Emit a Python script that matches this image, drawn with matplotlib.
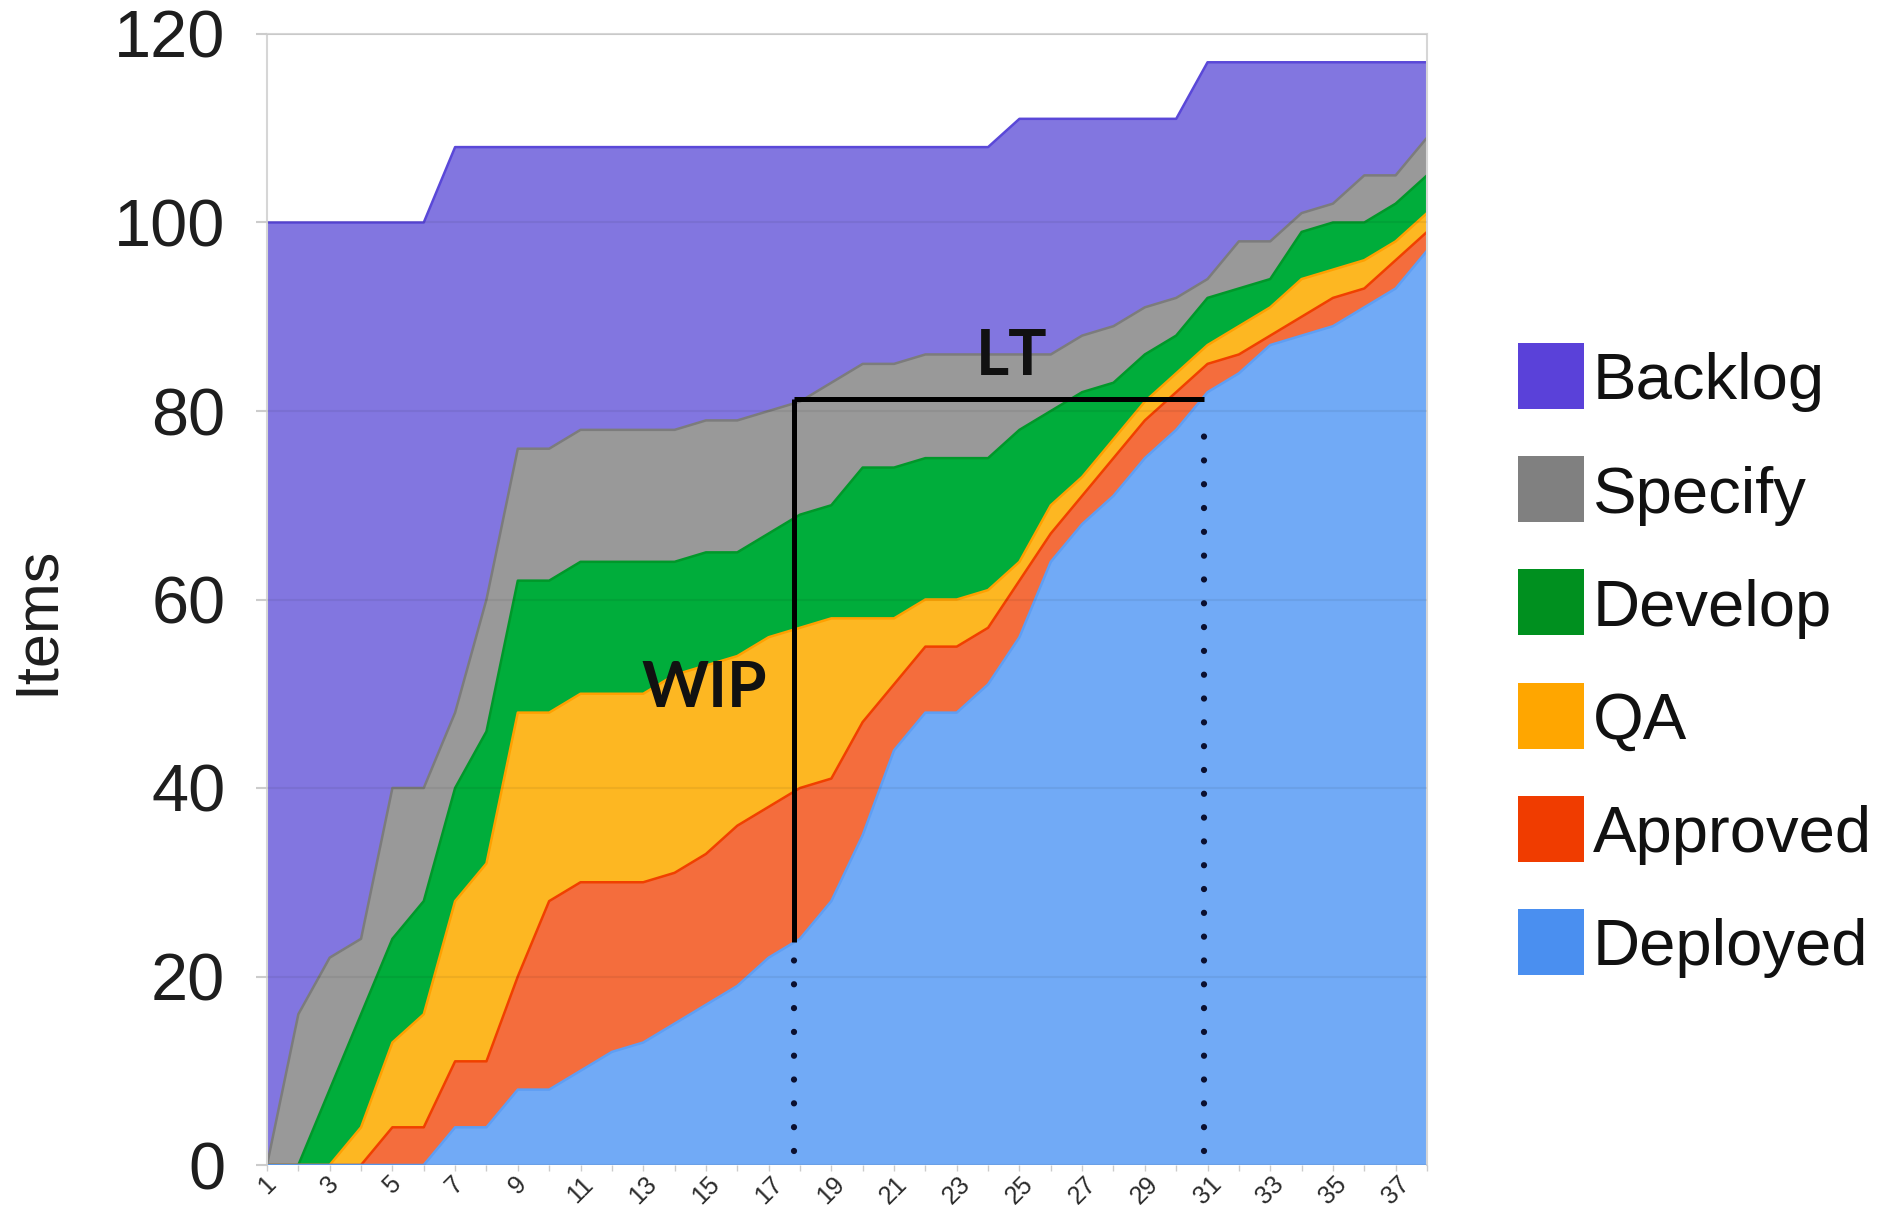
import matplotlib
matplotlib.use("Agg")
import matplotlib.pyplot as plt
from matplotlib.patches import Rectangle
import numpy as np

plt.rcParams["font.family"] = ["Liberation Sans", "DejaVu Sans"]

# cumulative item counts per stage, one value per day
days = list(range(1, 39))
backlog = [100, 100, 100, 100, 100, 100, 108, 108, 108, 108, 108, 108, 108, 108, 108, 108, 108, 108, 108,
           108, 108, 108, 108, 108, 111, 111, 111, 111, 111, 111, 117, 117, 117, 117, 117, 117, 117, 117]
specify = [0, 16, 22, 24, 40, 40, 48, 60, 76, 76, 78, 78, 78, 78, 79, 79, 80, 81, 83,
           85, 85, 86, 86, 86, 86, 86, 88, 89, 91, 92, 94, 98, 98, 101, 102, 105, 105, 109]
develop = [0, 0, 8, 16, 24, 28, 40, 46, 62, 62, 64, 64, 64, 64, 65, 65, 67, 69, 70,
           74, 74, 75, 75, 75, 78, 80, 82, 83, 86, 88, 92, 93, 94, 99, 100, 100, 102, 105]
qa = [0, 0, 0, 4, 13, 16, 28, 32, 48, 48, 50, 50, 50, 52, 53, 54, 56, 57, 58,
      58, 58, 60, 60, 61, 64, 70, 73, 77, 81, 84, 87, 89, 91, 94, 95, 96, 98, 101]
approved = [0, 0, 0, 0, 4, 4, 11, 11, 20, 28, 30, 30, 30, 31, 33, 36, 38, 40, 41,
            47, 51, 55, 55, 57, 62, 67, 71, 75, 79, 82, 85, 86, 88, 90, 92, 93, 96, 99]
deployed = [0, 0, 0, 0, 0, 0, 4, 4, 8, 8, 10, 12, 13, 15, 17, 19, 22, 24, 28,
            35, 44, 48, 48, 51, 56, 64, 68, 71, 75, 78, 82, 84, 87, 88, 89, 91, 93, 97]

stage_names = ["Backlog", "Specify", "Develop", "QA", "Approved", "Deployed"]
fill_colors = ["#8276e0", "#999999", "#00ad3b", "#fdb722", "#f46d3d", "#71aaf6"]
edge_colors = ["#5a48d8", "#7c7c7c", "#00982a", "#ffa000", "#f04000", "#5e9ef4"]
swatch_colors = ["#5a41d9", "#808080", "#00901f", "#ffa600", "#f03c00", "#4a8ff0"]

# annotation geometry (lead time / work in progress)
wip_day, lt_end_day = 17.8, 30.9
wip_low, lt_level = 23.7, 81.3

W, H = 1885, 1205
fig = plt.figure(figsize=(W / 100, H / 100), dpi=100)
ax = fig.add_axes([267 / W, 1 - 1165 / H, (1427 - 267) / W, (1165 - 34) / H])

x = np.array(days)
tops = [np.array(s) for s in (backlog, specify, develop, qa, approved, deployed)]
bottoms = tops[1:] + [np.zeros(len(days))]

for top, bottom, fc in zip(tops, bottoms, fill_colors):
    ax.fill_between(x, bottom, top, facecolor=fc, linewidth=0, zorder=1)
for top, ec in zip(tops, edge_colors):
    ax.plot(x, top, color=ec, linewidth=1.8, zorder=2)

ax.set_xlim(1, 38)
ax.set_ylim(0, 120)

ax.set_yticks(range(0, 121, 20))
ax.tick_params(axis="y", length=8, width=1.5, color="#cccccc", pad=22,
               labelsize=48, labelcolor="#1e1e1e")
odd_days = days[::2]
ax.set_xticks(odd_days)
ax.set_xticklabels([str(d) for d in odd_days], rotation=45, fontsize=18, color="#2a2a2a")
ax.set_xticks(days, minor=True)
ax.tick_params(axis="x", which="both", length=4, width=1, color="#cccccc", pad=1)

ax.set_axisbelow(False)
ax.yaxis.grid(True, color="#000000", alpha=0.06, linewidth=1.5)

for side in ("left", "top", "right"):
    ax.spines[side].set_color("#d6d6d6")
    ax.spines[side].set_linewidth(1.5)
ax.spines["bottom"].set_visible(False)

fig.text(37 / W, 1 - 620 / H, "Items", rotation=90, fontsize=44, ha="center", va="center",
         color="#1e1e1e")

# WIP / LT markers
ax.plot([wip_day, wip_day], [wip_low, lt_level], color="black", linewidth=3.6,
        solid_capstyle="butt", zorder=6)
ax.plot([wip_day, lt_end_day], [lt_level, lt_level], color="black", linewidth=3.6,
        solid_capstyle="butt", zorder=6)
for xd, ytop in ((wip_day, wip_low), (lt_end_day, lt_level)):
    ax.plot([xd, xd], [1.5, ytop - 1.5], color="#0b1030", linewidth=4.5,
            linestyle=(0, (0.01, 3.8)), dash_capstyle="round", zorder=6)

ax.text(14.94, 48.6, "WIP", fontsize=46, fontweight="bold", ha="center", va="baseline",
        color="#111111", family=["Lato", "DejaVu Sans"], zorder=7)
ax.text(24.76, 83.8, "LT", fontsize=46, fontweight="bold", ha="center", va="baseline",
        color="#111111", family=["Lato", "DejaVu Sans"], zorder=7)

# legend, drawn as swatches + labels
for i, (name, col) in enumerate(zip(stage_names, swatch_colors)):
    yc = 376 + i * 113.2
    fig.add_artist(Rectangle((1518 / W, 1 - (yc + 33) / H), 66 / W, 66 / H,
                             transform=fig.transFigure, facecolor=col, edgecolor="none"))
    fig.text(1593 / W, 1 - yc / H, name, fontsize=47, ha="left", va="center_baseline",
             color="#111111")

fig.savefig("out.png", dpi=100, facecolor="white")
